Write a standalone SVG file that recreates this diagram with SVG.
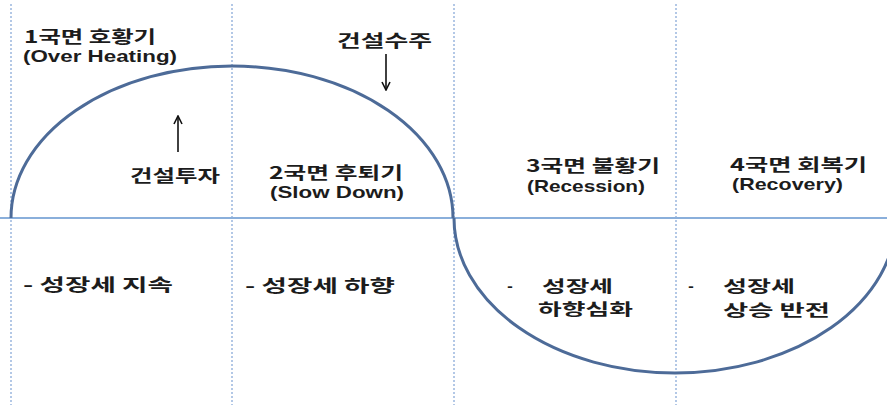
<svg xmlns="http://www.w3.org/2000/svg" width="887" height="405" viewBox="0 0 887 405">
<style>
.t{font-family:"Noto Sans CJK KR","Noto Sans",sans-serif;font-weight:bold;font-size:17px;fill:#1c1c1c}
.s{font-size:16px}
.e{font-family:"Liberation Sans","Noto Sans",sans-serif;font-weight:bold;font-size:17px;fill:#1c1c1c}
.grid{stroke:#9ab6de;stroke-width:1.5;stroke-dasharray:2 2;fill:none}
.axis{stroke:#8aafdb;stroke-width:2;fill:none}
.curve{stroke:#4d6b98;stroke-width:3;fill:none}
.arr{stroke:#111;stroke-width:1.6;fill:none}
</style>
<defs>
<marker id="ah" viewBox="0 0 10 10" refX="9" refY="5" markerWidth="10" markerHeight="10" markerUnits="userSpaceOnUse" orient="auto">
<path d="M1 1 L9 5 L1 9" fill="none" stroke="#111" stroke-width="1.6"/>
</marker>
</defs>
<rect width="887" height="405" fill="#fff"/>
<g id="grid">
<line class="grid" x1="11" y1="4" x2="11" y2="405"/>
<line class="grid" x1="232" y1="4" x2="232" y2="405"/>
<line class="grid" x1="454" y1="4" x2="454" y2="405"/>
<line class="grid" x1="676" y1="4" x2="676" y2="405"/>
</g>
<g id="axis"><line class="axis" x1="0" y1="218" x2="887" y2="218"/></g>
<g id="curves">
<path class="curve" d="M11 218 A221 152 0 0 1 453 218"/>
<path class="curve" d="M454 218 A221 155 0 0 0 896 218"/>
</g>
<g id="connectors">
<line class="arr" x1="178" y1="152" x2="178" y2="116" marker-end="url(#ah)"/>
<line class="arr" x1="386" y1="54" x2="386" y2="90" marker-end="url(#ah)"/>
</g>
<g id="phase1">
<text class="t" x="24" y="43" textLength="132" lengthAdjust="spacingAndGlyphs">1국면 호황기</text>
<text class="e" x="23" y="62" textLength="154" lengthAdjust="spacingAndGlyphs">(Over Heating)</text>
</g>
<g id="order"><text class="t" x="337" y="47" textLength="95" lengthAdjust="spacingAndGlyphs">건설수주</text></g>
<g id="invest"><text class="t" x="130" y="182" textLength="90" lengthAdjust="spacingAndGlyphs">건설투자</text></g>
<g id="phase2">
<text class="t" x="269" y="179" textLength="134" lengthAdjust="spacingAndGlyphs">2국면 후퇴기</text>
<text class="e" x="270" y="198" textLength="134" lengthAdjust="spacingAndGlyphs">(Slow Down)</text>
</g>
<g id="phase3">
<text class="t" x="526" y="172" textLength="134" lengthAdjust="spacingAndGlyphs">3국면 불황기</text>
<text class="e" x="527" y="192" textLength="118" lengthAdjust="spacingAndGlyphs">(Recession)</text>
</g>
<g id="phase4">
<text class="t" x="730" y="171" textLength="137" lengthAdjust="spacingAndGlyphs">4국면 회복기</text>
<text class="e" x="732" y="190" textLength="111" lengthAdjust="spacingAndGlyphs">(Recovery)</text>
</g>
<g id="desc1"><text class="t" x="23" y="291" textLength="150" lengthAdjust="spacingAndGlyphs">- 성장세 지속</text></g>
<g id="desc2"><text class="t" x="245" y="292" textLength="150" lengthAdjust="spacingAndGlyphs">- 성장세 하향</text></g>
<g id="desc3">
<text class="t s" x="507" y="292">-</text>
<text class="t s" x="542" y="292" textLength="71" lengthAdjust="spacingAndGlyphs">성장세</text>
<text class="t s" x="538" y="315" textLength="95" lengthAdjust="spacingAndGlyphs">하향심화</text>
</g>
<g id="desc4">
<text class="t s" x="688" y="292">-</text>
<text class="t s" x="723" y="292" textLength="72" lengthAdjust="spacingAndGlyphs">성장세</text>
<text class="t s" x="723" y="316" textLength="107" lengthAdjust="spacingAndGlyphs">상승 반전</text>
</g>
</svg>
